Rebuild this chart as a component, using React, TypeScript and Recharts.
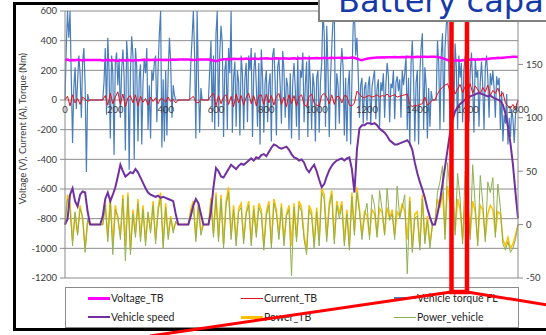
import {
  ComposedChart,
  Line,
  XAxis,
  YAxis,
  CartesianGrid,
  ReferenceDot,
} from "recharts";

// one sample every 10 s, 0..1800 s (torque every 5 s)
const SAMPLE_STEP = 10;
const TORQUE_STEP = 5;

// km/h, right axis
const vehicleSpeed = [
  0, 5, 28, 34, 22, 17, 28, 31, 30, 12,
  0, 0, 0, 0, 0, 8, 24, 30, 22, 28,
  35, 45, 56, 50, 45, 47, 49, 48, 52, 49,
  44, 39, 34, 30, 28, 27, 26, 27, 25, 26,
  25, 24, 23, 22, 10, 0, 0, 0, 0, 0,
  8, 18, 24, 20, 10, 0, 0, 0, 12, 35,
  53, 50, 45, 44, 48, 52, 56, 54, 52, 55,
  57, 56, 58, 60, 62, 60, 63, 62, 65, 66,
  64, 68, 72, 75, 74, 72, 71, 72, 73, 70,
  66, 63, 62, 60, 61, 58, 52, 49, 53, 56,
  50, 42, 35, 38, 45, 51, 55, 58, 60, 61,
  62, 60, 62, 63, 52, 30, 70, 90, 93, 93,
  95, 95, 94, 95, 93, 90, 88, 86, 83, 79,
  77, 75, 75, 76, 77, 78, 79, 76, 70, 58,
  48, 40, 33, 25, 15, 7, 0, 0, 10, 22,
  38, 54, 70, 86, 98, 106, 110, 113, 115, 117,
  118, 120, 121, 122, 123, 123, 122, 121, 120, 121,
  119, 118, 117, 116, 112, 104, 92, 76, 56, 30,
  6,
];

// V, left axis
const voltageTB = [
  268, 272, 266, 270, 268, 271, 269, 267, 270, 269,
  270, 270, 270, 270, 269, 266, 268, 271, 267, 269,
  266, 264, 268, 270, 266, 269, 268, 265, 270, 268,
  269, 271, 270, 272, 270, 271, 270, 272, 271, 270,
  272, 270, 271, 273, 272, 273, 273, 273, 273, 273,
  272, 270, 271, 273, 273, 273, 273, 273, 270, 266,
  262, 268, 272, 275, 274, 276, 275, 278, 276, 277,
  278, 276, 279, 277, 276, 279, 278, 277, 279, 280,
  281, 279, 278, 280, 282, 280, 279, 281, 280, 278,
  280, 281, 279, 282, 280, 283, 281, 280, 282, 281,
  283, 281, 282, 284, 282, 283, 285, 283, 284, 285,
  284, 285, 283, 284, 286, 285, 278, 272, 268, 274,
  278, 281, 283, 285, 286, 287, 288, 287, 289, 288,
  289, 290, 289, 288, 290, 289, 291, 290, 289, 290,
  291, 290, 292, 291, 290, 292, 292, 292, 290, 287,
  282, 276, 270, 266, 264, 266, 268, 265, 268, 270,
  272, 271, 274, 272, 275, 273, 276, 274, 277, 280,
  282, 281, 284, 283, 285, 287, 289, 290, 292, 291,
  290,
];

// A, left axis
const currentTB = [
  0, 25, -40, 35, -20, 10, -30, 20, 5, -10,
  0, 0, 0, 0, 0, 0, 30, -35, 45, -25,
  20, 55, -30, 40, -45, 15, 30, -20, 35, -40,
  25, -15, 10, -35, 20, -10, 15, -25, 10, 5,
  -15, 20, -10, 5, -20, 0, 0, 0, 0, 0,
  10, 25, -15, -20, 5, 0, 0, 0, 30, 45,
  -40, 30, -25, 20, 35, -30, 25, -45, 40, -20,
  30, -35, 20, 45, -25, 30, -40, 25, 35, -30,
  40, -20, 30, -35, 25, 45, -30, 20, -45, 35,
  -25, 30, -40, 20, 35, -30, -45, 25, 40, -20,
  -35, -40, 30, 45, 20, -25, 35, -30, 25, 20,
  -20, 30, 25, -35, -40, -20, 60, 40, 20, 15,
  25, 30, 20, 25, 35, 20, 30, 25, 40, 20,
  30, 35, 20, 25, 30, 35, 40, -30, -45, -35,
  -40, -30, -25, 20, -35, -20, 0, 0, 40, 70,
  85, 100, 110, 60, 95, 40, 75, 105, 50, 90,
  60, 110, 45, 95, 70, 40, 85, 55, 100, 30,
  65, 45, 80, 25, 50, -20, -40, -55, -30, -60,
  0,
];

// Nm, left axis, 5 s samples
const torqueFL = [
  0, 350, 600, 420, 600, 150, -290, 80, 220, -60, 120, 300, 180, -120, 260, 350, 100, -485, 40, 0,
  0, 0, 0, 0, 0, 0, 0, 0, 0, 0, 0, 120, 350, -100, 420, 200, -260, 300, 180, -370,
  250, 320, 100, 280, -120, 200, 340, 150, -340, 400, 260, -470, 180, 430, 300, -400, 350, 220, -280, 150,
  240, -300, 120, 280, 180, 350, -200, 100, -260, 200, 130, 250, 300, -150, 220, 450, 600, -320, 140, -280,
  200, -240, 180, 420, 250, -120, 100, 30, 0, 0, 0, 0, 0, 0, 0, 0, 0, 0, 0, 0,
  250, 420, 600, 300, -260, 600, 150, -220, 80, 0, 0, 0, 0, 0, 0, 200, 400, -150, 300, -200,
  450, 600, -180, 320, 500, 380, -250, 200, 280, -200, 350, 180, 600, -220, 150, 260, -180, 200, 120, -240,
  300, 180, -200, 150, 250, -150, 300, 200, 350, -250, 180, 320, 100, -180, 250, -300, 340, 150, -220, 120,
  200, -150, 100, 180, -280, 300, 350, 120, -240, 220, 280, 100, -160, 330, 200, -120, 150, 90, -200, 180,
  -260, 120, 250, 80, -180, 300, -270, 200, 150, 320, -150, 100, 260, -250, 300, 120, -200, 180, 90, -280,
  150, 200, -220, 120, 250, 600, 450, -180, 500, 200, -250, 150, 350, 550, 600, -200, 180, 100, -160, 200,
  350, 220, -240, 150, -280, 100, 200, -300, 120, 500, 600, 300, 420, 180, -120, 100, 150, -160, 80, 120,
  -140, 100, 160, -170, 90, 150, 200, -130, 80, 140, -180, 120, 60, 180, -120, 100, 250, 160, -150, 110,
  80, 200, -130, 120, 160, 60, 140, -120, 200, 100, 180, 300, -200, 150, -310, 250, 400, 150, -280, 120,
  200, -300, 180, 350, 450, -200, 220, 100, -260, 80, -180, 60, 0, 0, 0, 0, 400, 250, -200, 300,
  450, -150, 350, 500, 600, 200, -180, 450, 300, -100, 380, 220, -200, 300, 150, 250, -150, 200, 300, 100,
  250, -150, 180, 320, 100, -220, 280, 150, 200, -180, 120, 260, 90, -200, 220, 300, 150, -120, 180, 100,
  200, 80, -120, 160, 100, 150, -200, 60, -280, -100, -160, 40, -300, -120, -250, -60, -130, -290, -100, -40,
  0,
];

// kW, right axis
const powerTB = [
  0, 28, 20, -15, 10, -8, 18, 5, -22, 3,
  0, 0, 0, 0, 0, 0, 22, -12, 26, -18,
  18, 5, -10, 28, -20, 30, -24, 14, -8, 24,
  -12, 18, -15, 10, -5, 22, -14, 16, 30, -18,
  20, -10, 8, -5, 2, 0, 0, 0, 0, 0,
  15, 22, -12, 20, -6, 0, 0, 0, 25, -8,
  30, -12, 28, -18, 22, 35, -10, 18, -15, 15,
  20, -14, 12, 22, -16, 18, -8, 20, 14, -20,
  12, 22, -18, 24, 14, -10, 20, -15, 10, 18,
  -20, 20, -12, 22, 16, -10, -24, 18, 12, -18,
  16, -15, 34, 28, -12, 20, 32, -14, 22, 10,
  22, -16, 14, -20, 30, -6, 35, 15, -10, 12,
  8, -10, 14, 10, -10, 15, 12, -8, 16, 6,
  14, -10, 12, 8, 20, 12, -14, 26, -22, 10,
  12, -20, 28, -14, 8, -18, 0, 0, 24, 16,
  30, -10, 36, 20, 28, -6, 24, 14, -14, 20,
  16, -10, 22, 12, -16, 18, 14, -12, 10, 18,
  14, -8, 12, 10, -14, -20, -12, -22, -18, -10,
  0,
];

// kW, right axis
const powerVehicle = [
  0, 24, 15, -20, 12, -10, 15, 8, -26, 5,
  0, 0, 0, 0, 0, 0, 18, -16, 22, -28,
  14, 8, -14, 24, -34, 26, -28, 10, -12, 20,
  -16, 14, -20, 12, -8, 18, -18, 12, 26, -22,
  16, -14, 6, -8, 3, 0, 0, 0, 0, 0,
  12, 18, -16, 16, -10, 0, 0, 0, 20, -12,
  26, -16, 24, -22, 18, 30, -14, 14, -20, 12,
  16, -18, 10, 18, -20, 14, -12, 16, 10, -24,
  8, 18, -22, 20, 10, -14, 16, -20, 8, 14,
  -48, 16, -16, 18, 12, -14, -28, 14, 8, -22,
  12, -20, 30, 24, -16, 16, 28, -18, 18, 6,
  18, -20, 10, -24, 26, -10, 30, 12, -14, 8,
  20, -14, 28, 18, -12, 32, 14, -10, 34, 4,
  10, -14, 36, 6, 16, 28, -46, 22, -26, 6,
  8, -24, 24, -18, 4, -22, 0, 0, 30, 40,
  55, -14, 58, 30, 52, -10, 48, 24, -18, 50,
  28, -14, 56, 18, -20, 46, 20, -16, 40, 30,
  44, -12, 38, 16, -18, -24, -16, -26, -22, -14,
  0,
];

const timeTicks = [0, 200, 400, 600, 800, 1000, 1200, 1400, 1600, 1800];
const leftTicks = [-1200, -1000, -800, -600, -400, -200, 0, 200, 400, 600];
const rightTicks = [-50, 0, 50, 100, 150];

const series = [
  { key: "voltage", name: "Voltage_TB", color: "#FF00FF", width: 2.5, axis: "left", legendWidth: 3 },
  { key: "current", name: "Current_TB", color: "#E3101A", width: 1, axis: "left", legendWidth: 1 },
  { key: "torque", name: "Vehicle torque FL", color: "#4A7EBB", width: 1.2, axis: "left", legendWidth: 1.5 },
  { key: "speed", name: "Vehicle speed", color: "#7030A0", width: 2, axis: "right", legendWidth: 2.5 },
  { key: "powerTB", name: "Power_TB", color: "#FFC000", width: 1.5, axis: "right", legendWidth: 3 },
  { key: "powerVehicle", name: "Power_vehicle", color: "#8FB04E", width: 1, axis: "right", legendWidth: 1 },
];
const drawOrder = ["torque", "current", "voltage", "powerTB", "powerVehicle", "speed"];

const data = vehicleSpeed.map((speed, i) => ({
  t: i * SAMPLE_STEP,
  voltage: voltageTB[i],
  current: currentTB[i],
  speed,
  powerTB: powerTB[i],
  powerVehicle: powerVehicle[i],
}));

const torqueData = torqueFL.map((torque, i) => ({ t: i * TORQUE_STEP, torque }));

const FONT = "Lato, 'Open Sans', sans-serif";
const tickStyle = { fontSize: 9.5, fill: "#3a3a3a", fontFamily: FONT };

function YTitle(props: any) {
  const vb = props.viewBox || { x: 0, y: 11, width: 65, height: 267 };
  const cx = vb.x + 22;
  const cy = vb.y + vb.height / 2 - 16;
  return (
    <text
      x={cx}
      y={cy}
      transform={`rotate(-90 ${cx} ${cy})`}
      textAnchor="middle"
      dominantBaseline="central"
      fontSize={9.5}
      fill="#3a3a3a"
      fontFamily={FONT}
    >
      Voltage (V), Current (A), Torque (Nm)
    </text>
  );
}

function ChartLegend() {
  return (
    <div
      style={{
        position: "absolute",
        left: 65,
        top: 287,
        width: 454,
        height: 41,
        boxSizing: "border-box",
        border: "1px solid #8c8c8c",
        background: "#fff",
        fontFamily: FONT,
        fontSize: 10.5,
        color: "#262626",
      }}
    >
      {series.map((s, i) => (
        <div
          key={s.key}
          style={{
            position: "absolute",
            left: 22 + (i % 3) * 153,
            top: i < 3 ? 3 : 22,
            height: 14,
            display: "flex",
            alignItems: "center",
            whiteSpace: "nowrap",
          }}
        >
          <span
            style={{
              display: "inline-block",
              width: 22,
              height: s.legendWidth,
              background: s.color,
              marginRight: 1,
            }}
          />
          {s.name}
        </div>
      ))}
    </div>
  );
}

export default function App() {
  return (
    <div
      style={{
        position: "absolute",
        left: 0,
        top: 0,
        width: 546,
        height: 335,
        overflow: "hidden",
        background: "#fff",
        fontFamily: FONT,
      }}
    >
      <ComposedChart
        width={546}
        height={335}
        data={data}
        margin={{ top: 11, right: 0, bottom: 57, left: 0 }}
      >
        <CartesianGrid yAxisId="left" vertical={false} stroke="#8c8c8c" />
        <XAxis dataKey="t" type="number" domain={[0, 1800]} ticks={timeTicks} hide />
        <YAxis
          yAxisId="left"
          domain={[-1200, 600]}
          ticks={leftTicks}
          interval={0}
          width={65}
          stroke="#8c8c8c"
          tick={tickStyle}
          tickSize={5}
          tickMargin={3}
          label={<YTitle />}
        />
        <YAxis
          yAxisId="right"
          orientation="right"
          domain={[-50, 200]}
          ticks={rightTicks}
          interval={0}
          width={28}
          stroke="#8c8c8c"
          tick={tickStyle}
          tickSize={5}
          tickMargin={3}
        />
        {drawOrder.map((key) => {
          const s = series.find((d) => d.key === key)!;
          return (
            <Line
              key={s.key}
              yAxisId={s.axis}
              data={s.key === "torque" ? torqueData : undefined}
              dataKey={s.key}
              name={s.name}
              type="linear"
              stroke={s.color}
              strokeWidth={s.width}
              dot={false}
              isAnimationActive={false}
            />
          );
        })}
        {timeTicks.map((t) => (
          <ReferenceDot
            key={t}
            yAxisId="left"
            x={t}
            y={0}
            r={0}
            fill="none"
            stroke="none"
            label={{ value: String(t), position: "bottom", offset: 6, ...tickStyle }}
          />
        ))}
      </ComposedChart>
      <ChartLegend />
      <svg
        width={546}
        height={335}
        style={{ position: "absolute", left: 0, top: 0, pointerEvents: "none" }}
      >
        {/* slide frame */}
        <path d="M546 3.5 H14.5 V329.5 H546" fill="none" stroke="#000" strokeWidth={3} />
        {/* callout */}
        <path
          d="M451.5 20 V292 H467 V20"
          fill="none"
          stroke="#ff0000"
          strokeWidth={4.5}
        />
        <line x1={451} y1={292} x2={150} y2={336} stroke="#ff0000" strokeWidth={3} />
        <line x1={467} y1={292} x2={548} y2={305} stroke="#ff0000" strokeWidth={3} />
      </svg>
      <div
        style={{
          position: "absolute",
          left: 318,
          top: -4,
          width: 240,
          height: 26,
          boxSizing: "border-box",
          border: "2px solid #808080",
          background: "#fff",
          overflow: "hidden",
        }}
      >
        <div
          style={{
            position: "absolute",
            left: 18,
            top: -17,
            fontFamily: "'DejaVu Sans', sans-serif",
            fontSize: 32,
            lineHeight: "40px",
            color: "#1539a6",
            whiteSpace: "nowrap",
          }}
        >
          Battery capa
        </div>
      </div>
    </div>
  );
}
